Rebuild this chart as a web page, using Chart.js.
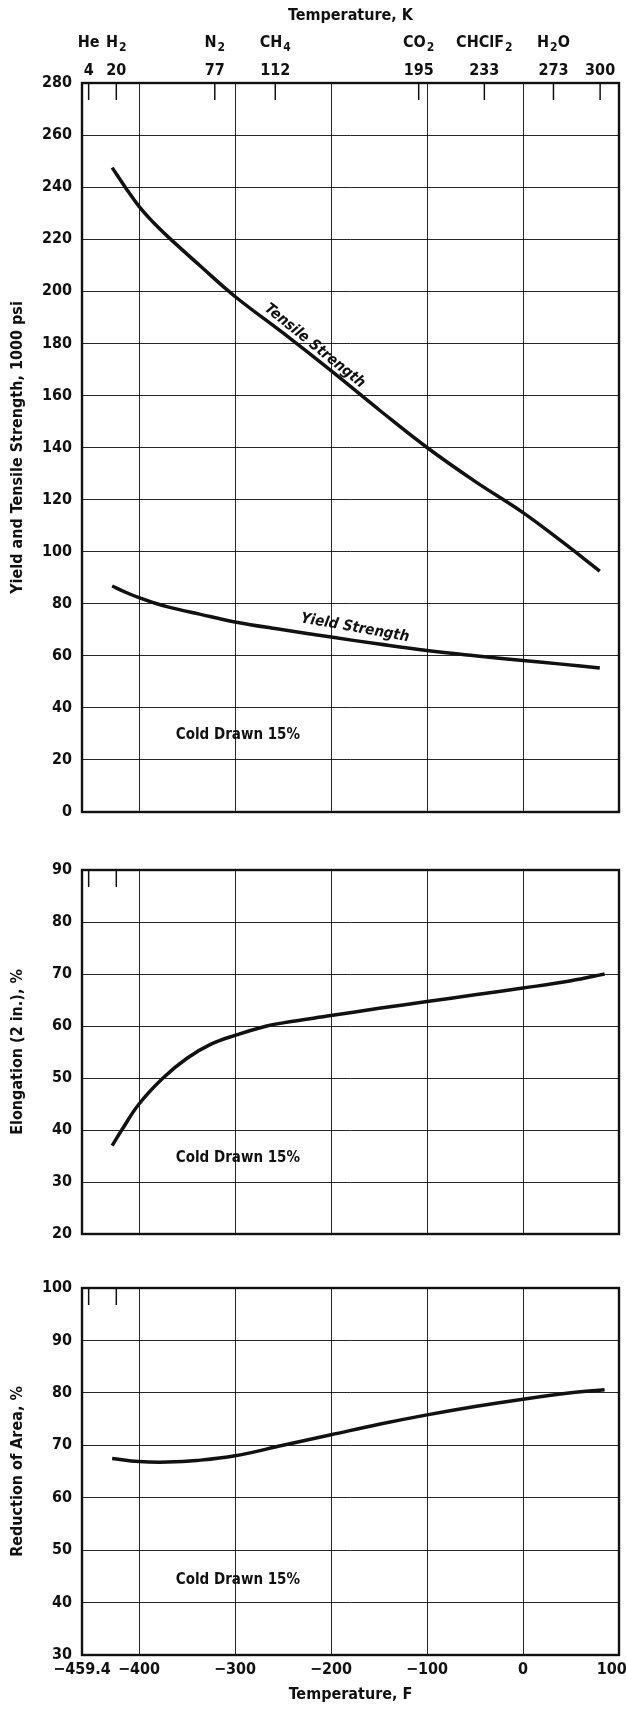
<!DOCTYPE html>
<html>
<head>
<meta charset="utf-8">
<script src="https://cdn.jsdelivr.net/npm/chart.js@4.4.0/dist/chart.umd.min.js"></script>
<style>
body { margin: 0; background: #fff; }
canvas { position: absolute; left: 0; }
</style>
</head>
<body>
<canvas id="c1" width="626" height="830" style="top:0px"></canvas>
<canvas id="c2" width="626" height="420" style="top:830px"></canvas>
<canvas id="c3" width="626" height="463" style="top:1250px"></canvas>
<script>
var FONT = "'Liberation Sans Narrow', 'DejaVu Sans Condensed', 'Arial Narrow', sans-serif";

// temperature in F, strength in 1000 psi
var tempStrength = [-428, -414, -400, -385, -370, -337, -300, -250, -200, -150, -100, -50, 0, 40, 80];
var tensile = [247.5, 239.8, 232.6, 226.4, 221, 210, 198, 184, 169.5, 154.5, 140, 127, 115, 104, 92.5];
var yieldStr = [86.8, 84.4, 82.3, 80.4, 78.8, 76, 73, 70, 67.2, 64.5, 62, 60, 58.2, 56.8, 55.3];

// elongation (2 in.), %
var tempElong = [-428, -418, -400, -375, -350, -325, -300, -267, -250, -200, -150, -100, -50, 0, 50, 85];
var elongation = [37, 40, 45, 50, 53.8, 56.5, 58.2, 60, 60.6, 62, 63.4, 64.7, 66, 67.3, 68.7, 70];

// reduction of area, %
var tempRA = [-428, -400, -370, -340, -300, -250, -200, -150, -100, -50, 0, 50, 85];
var reduction = [67.5, 66.9, 66.8, 67.1, 68, 70, 72, 74, 75.8, 77.4, 78.8, 80, 80.6];

// top temperature scale
var kelvin = [4, 20, 77, 112, 195, 233, 273, 300];
var gases = ["He", "H_2", "N_2", "CH_4", "CO_2", "CHClF_2", "H_2O", ""];
var fTicks = [-459.4, -400, -300, -200, -100, 0, 100];

function kToF(k) { return k * 1.8 - 459.67; }
function pts(xs, ys) { return xs.map(function (x, i) { return { x: x, y: ys[i] }; }); }
function fmtF(v) {
  if (v === 100) return "100\u2002\u2002";
  return v < 0 ? "\u2212" + Math.abs(v) : String(v);
}

function lineSet(data) {
  return {
    data: data,
    borderColor: "#111",
    borderWidth: 3.5,
    pointRadius: 0,
    fill: false,
    tension: 0.4
  };
}

function decor(id, kTicks, notes) {
  return {
    id: id,
    afterDatasetsDraw: function (chart) {
      var ctx = chart.ctx, a = chart.chartArea;
      var xs = chart.scales.x, ys = chart.scales.y;
      ctx.save();
      ctx.strokeStyle = "#111";
      ctx.lineWidth = 1.5;
      kTicks.forEach(function (k) {
        var px = xs.getPixelForValue(kToF(k));
        ctx.beginPath();
        ctx.moveTo(px, a.top);
        ctx.lineTo(px, a.top + 17);
        ctx.stroke();
      });
      ctx.lineWidth = 2.4;
      ctx.strokeRect(a.left, a.top, a.right - a.left, a.bottom - a.top);
      ctx.fillStyle = "#111";
      notes.forEach(function (n) {
        ctx.save();
        ctx.translate(xs.getPixelForValue(n.x), ys.getPixelForValue(n.y));
        ctx.rotate(n.angle * Math.PI / 180);
        ctx.font = (n.italic ? "italic " : "") + "bold 15px " + FONT;
        ctx.textAlign = "center";
        ctx.textBaseline = "middle";
        ctx.fillText(n.text, 0, 0);
        ctx.restore();
      });
      ctx.restore();
    }
  };
}

// gas names with subscripts above the kelvin ticks
var gasLabels = {
  id: "gasLabels",
  afterDraw: function (chart) {
    var ctx = chart.ctx, xs = chart.scales.x;
    ctx.save();
    ctx.fillStyle = "#111";
    ctx.textBaseline = "middle";
    ctx.textAlign = "left";
    kelvin.forEach(function (k, i) {
      var parts = gases[i].split(/_(\d)/);
      var w = 0;
      parts.forEach(function (p, j) {
        ctx.font = "bold " + (j % 2 ? 12 : 16) + "px " + FONT;
        w += ctx.measureText(p).width + (j % 2 ? 1 : 0);
      });
      var px = xs.getPixelForValue(kToF(k)) - w / 2;
      parts.forEach(function (p, j) {
        ctx.font = "bold " + (j % 2 ? 12 : 16) + "px " + FONT;
        ctx.fillText(p, px + (j % 2 ? 1 : 0), 43 + (j % 2 ? 5 : 0));
        px += ctx.measureText(p).width + (j % 2 ? 1 : 0);
      });
    });
    ctx.restore();
  }
};

var gridStyle = { color: "rgba(0,0,0,0.85)", lineWidth: 1, drawTicks: false };
var tickFont = { family: FONT, size: 16, weight: "bold" };
var titleFont = { family: FONT, size: 16, weight: "bold" };

function xScale(showLabels, height) {
  return {
    type: "linear",
    min: -459.4,
    max: 100,
    afterBuildTicks: function (s) { s.ticks = fTicks.map(function (v) { return { value: v }; }); },
    afterFit: function (s) { s.height = height; s.paddingLeft = 0; s.paddingRight = 0; },
    grid: gridStyle,
    border: { display: false },
    ticks: { display: showLabels, autoSkip: false, maxRotation: 0, padding: 5, color: "#111", font: tickFont, callback: fmtF },
    title: { display: showLabels, text: "Temperature, F", color: "#111", font: titleFont, padding: { top: 0, bottom: 9 } }
  };
}

function yScale(min, max, step, title) {
  return {
    min: min,
    max: max,
    afterFit: function (s) { s.width = 82; s.paddingTop = 0; s.paddingBottom = 0; },
    grid: gridStyle,
    border: { display: false },
    ticks: { stepSize: step, padding: 10, color: "#111", font: tickFont },
    title: { display: true, text: title, color: "#111", font: titleFont, padding: { top: 8, bottom: 0 } }
  };
}

function baseOptions(padTop) {
  return {
    responsive: false,
    animation: false,
    devicePixelRatio: 1,
    layout: { padding: { left: 0, right: 7, top: padTop, bottom: 0 } },
    plugins: { legend: { display: false }, tooltip: { enabled: false } }
  };
}

// panel 1: strength
var opt1 = baseOptions(0);
opt1.scales = {
  x: xScale(false, 18),
  k: {
    type: "linear",
    position: "top",
    min: -459.4,
    max: 100,
    afterBuildTicks: function (s) { s.ticks = kelvin.map(function (k) { return { value: kToF(k) }; }); },
    afterFit: function (s) { s.height = 83; s.paddingLeft = 0; s.paddingRight = 0; },
    grid: { display: false, drawTicks: false },
    border: { display: false },
    ticks: { autoSkip: false, maxRotation: 0, padding: 3, color: "#111", font: tickFont,
      callback: function (v, i) { return kelvin[i]; } },
    title: { display: true, text: "Temperature, K", color: "#111", font: titleFont, padding: { top: 6, bottom: 0 } }
  },
  y: yScale(0, 280, 20, "Yield and Tensile Strength, 1000 psi")
};
new Chart(document.getElementById("c1"), {
  type: "line",
  data: { datasets: [lineSet(pts(tempStrength, tensile)), lineSet(pts(tempStrength, yieldStr))] },
  options: opt1,
  plugins: [gasLabels, decor("decor1", kelvin, [
    { text: "Tensile Strength", x: -217, y: 179, angle: 39, italic: true },
    { text: "Yield Strength", x: -175, y: 70.7, angle: 10, italic: true },
    { text: "Cold Drawn 15%", x: -297, y: 29.6, angle: 0 }
  ])]
});

// panel 2: elongation
var opt2 = baseOptions(40);
opt2.scales = { x: xScale(false, 16), y: yScale(20, 90, 10, "Elongation (2 in.), %") };
new Chart(document.getElementById("c2"), {
  type: "line",
  data: { datasets: [lineSet(pts(tempElong, elongation))] },
  options: opt2,
  plugins: [decor("decor2", [4, 20], [{ text: "Cold Drawn 15%", x: -297, y: 34.6, angle: 0 }])]
});

// panel 3: reduction of area
var opt3 = baseOptions(38);
opt3.scales = { x: xScale(true, 58), y: yScale(30, 100, 10, "Reduction of Area, %") };
new Chart(document.getElementById("c3"), {
  type: "line",
  data: { datasets: [lineSet(pts(tempRA, reduction))] },
  options: opt3,
  plugins: [decor("decor3", [4, 20], [{ text: "Cold Drawn 15%", x: -297, y: 44.3, angle: 0 }])]
});
</script>
</body>
</html>
